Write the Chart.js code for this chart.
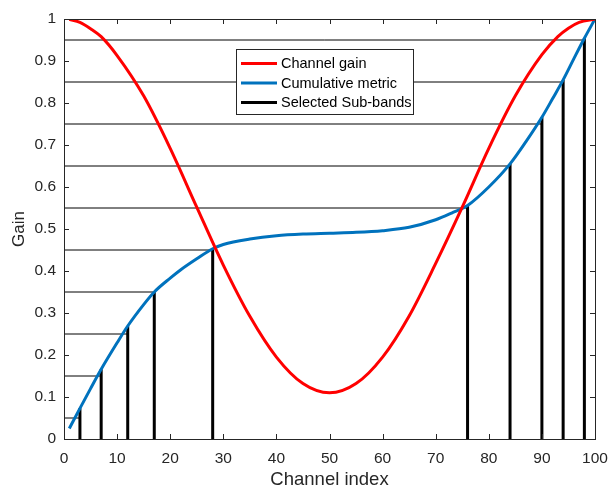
<!DOCTYPE html>
<html>
<head>
<meta charset="utf-8">
<script src="https://cdn.jsdelivr.net/npm/chart.js@4"></script>
<style>
  html, body { margin: 0; padding: 0; background: #ffffff; }
  canvas { display: block; }
</style>
</head>
<body>
<canvas id="chart" width="609" height="489"></canvas>
<script>
// Channel gain over the channel index
const gainIdx = [1, 3, 5, 7, 10, 15, 20, 25, 30, 35, 40, 45, 50, 55, 60, 65, 70, 75, 80, 85, 90, 93, 95, 97, 100];
const gainVal = [0.999, 0.992, 0.977, 0.958, 0.913, 0.817, 0.692, 0.552, 0.414, 0.292, 0.195, 0.132, 0.110, 0.132, 0.195, 0.293, 0.418, 0.552, 0.692, 0.817, 0.915, 0.958, 0.978, 0.992, 1.0];

// Cumulative metric over the channel index
const cumIdx = [1, 3, 5, 7, 10, 12, 15, 17, 20, 22, 25, 28, 30, 35, 40, 45, 50, 55, 60, 65, 70, 73, 76, 80, 84, 87, 90, 92, 94, 96, 98, 100];
const cumVal = [0.025, 0.073, 0.12, 0.166, 0.229, 0.269, 0.32, 0.35, 0.383, 0.403, 0.429, 0.453, 0.463, 0.476, 0.484, 0.488, 0.490, 0.492, 0.496, 0.504, 0.522, 0.538, 0.556, 0.600, 0.655, 0.708, 0.766, 0.81, 0.855, 0.905, 0.954, 1.0];

// Selected sub-bands: channel, metric value at the channel, and the level it was picked for
const bandIdx = [3, 7, 12, 17, 28, 76, 84, 90, 94, 98];
const bandVal = [0.073, 0.166, 0.269, 0.35, 0.453, 0.556, 0.655, 0.766, 0.855, 0.954];
const bandLevel = [0.05, 0.15, 0.25, 0.35, 0.45, 0.55, 0.65, 0.75, 0.85, 0.95];

// Axis ticks
const xTicks = [0, 10, 20, 30, 40, 50, 60, 70, 80, 90, 100];
const yTicks = [0, 0.1, 0.2, 0.3, 0.4, 0.5, 0.6, 0.7, 0.8, 0.9, 1];
const xTickText = ['0', '10', '20', '30', '40', '50', '60', '70', '80', '90', '100'];
const yTickText = ['0', '0.1', '0.2', '0.3', '0.4', '0.5', '0.6', '0.7', '0.8', '0.9', '1'];

const AXIS = '#262626';
const FONT = 'Arial, "Liberation Sans", Helvetica, sans-serif';

const pts = (xs, ys) => xs.map((x, i) => ({ x: x, y: ys[i] }));

// Vertical stems and the level lines leading to them, separated by gaps
const stems = [];
const levels = [];
bandIdx.forEach((x, i) => {
  stems.push({ x: x, y: 0 }, { x: x, y: bandVal[i] }, { x: x, y: null });
  levels.push({ x: 0, y: bandLevel[i] }, { x: x, y: bandLevel[i] }, { x: x, y: null });
});

// Box frame with inward ticks on all four sides
const framePlugin = {
  id: 'frame',
  afterDatasetsDraw(chart) {
    const { ctx, chartArea: a, scales } = chart;
    ctx.save();
    ctx.strokeStyle = AXIS;
    ctx.lineWidth = 1;
    ctx.beginPath();
    const tl = 5;
    xTicks.forEach(v => {
      const px = Math.round(scales.x.getPixelForValue(v)) + 0.5;
      ctx.moveTo(px, a.bottom); ctx.lineTo(px, a.bottom - tl);
      ctx.moveTo(px, a.top); ctx.lineTo(px, a.top + tl);
    });
    yTicks.forEach(v => {
      const py = Math.round(scales.y.getPixelForValue(v)) + 0.5;
      ctx.moveTo(a.left, py); ctx.lineTo(a.left + tl, py);
      ctx.moveTo(a.right, py); ctx.lineTo(a.right - tl, py);
    });
    ctx.stroke();
    ctx.strokeRect(Math.round(a.left) + 0.5, Math.round(a.top) + 0.5,
      Math.round(a.right - a.left), Math.round(a.bottom - a.top));
    ctx.restore();
  }
};

// Boxed legend inside the plot area
const legendPlugin = {
  id: 'boxLegend',
  afterDraw(chart) {
    const { ctx } = chart;
    const items = chart.data.datasets.filter(d => d.legendText);
    const x0 = 236.5, y0 = 49.5, w = 177, h = 65;
    ctx.save();
    ctx.fillStyle = '#ffffff';
    ctx.fillRect(x0, y0, w, h);
    ctx.strokeStyle = AXIS;
    ctx.lineWidth = 1;
    ctx.strokeRect(x0, y0, w, h);
    ctx.font = '14.5px ' + FONT;
    ctx.textBaseline = 'middle';
    ctx.textAlign = 'left';
    items.forEach((d, i) => {
      const cy = 63.5 + i * 19.5;
      ctx.strokeStyle = d.borderColor;
      ctx.lineWidth = 3;
      ctx.beginPath();
      ctx.moveTo(241, cy); ctx.lineTo(277, cy);
      ctx.stroke();
      ctx.fillStyle = '#000000';
      ctx.fillText(d.legendText, 281, cy + 0.5);
    });
    ctx.restore();
  }
};

new Chart(document.getElementById('chart'), {
  type: 'line',
  data: {
    datasets: [
      {
        legendText: 'Channel gain',
        data: pts(gainIdx, gainVal),
        borderColor: '#ff0000',
        borderWidth: 3,
        pointRadius: 0,
        cubicInterpolationMode: 'monotone',
        order: 0
      },
      {
        legendText: 'Cumulative metric',
        data: pts(cumIdx, cumVal),
        borderColor: '#0072bd',
        borderWidth: 3,
        pointRadius: 0,
        cubicInterpolationMode: 'monotone',
        order: 1
      },
      {
        legendText: 'Selected Sub-bands',
        data: stems,
        borderColor: '#000000',
        borderWidth: 3,
        borderCapStyle: 'butt',
        pointRadius: 0,
        spanGaps: false,
        order: 2
      },
      {
        data: levels,
        borderColor: '#000000',
        borderWidth: 1,
        pointRadius: 0,
        spanGaps: false,
        order: 3
      }
    ]
  },
  options: {
    responsive: false,
    animation: false,
    devicePixelRatio: 1,
    layout: { padding: { top: 19, right: 14, left: 0, bottom: 0 } },
    plugins: { legend: { display: false }, tooltip: { enabled: false } },
    scales: {
      x: {
        type: 'linear',
        min: 0, max: 100,
        afterBuildTicks: s => { s.ticks = xTicks.map(v => ({ value: v })); },
        afterFit: s => { s.height = 50; s.paddingLeft = 0; s.paddingRight = 0; },
        grid: { display: false, drawTicks: false },
        border: { display: false },
        ticks: {
          color: AXIS, font: { family: FONT, size: 15.5 }, padding: 10, maxRotation: 0,
          callback: (v, i) => xTickText[i]
        },
        title: { display: true, text: 'Channel index', color: AXIS,
                 font: { family: FONT, size: 18.5, lineHeight: 1 }, padding: { top: 0, bottom: 0 } }
      },
      y: {
        type: 'linear',
        min: 0, max: 1,
        afterBuildTicks: s => { s.ticks = yTicks.map(v => ({ value: v })); },
        afterFit: s => { s.width = 64; s.paddingTop = 0; s.paddingBottom = 0; },
        grid: { display: false, drawTicks: false },
        border: { display: false },
        ticks: {
          color: AXIS, font: { family: FONT, size: 15.5 }, padding: 8,
          callback: (v, i) => yTickText[i]
        },
        title: { display: true, text: 'Gain', color: AXIS,
                 font: { family: FONT, size: 17, lineHeight: 1 }, padding: { top: 11, bottom: 0 } }
      }
    }
  },
  plugins: [framePlugin, legendPlugin]
});
</script>
</body>
</html>
